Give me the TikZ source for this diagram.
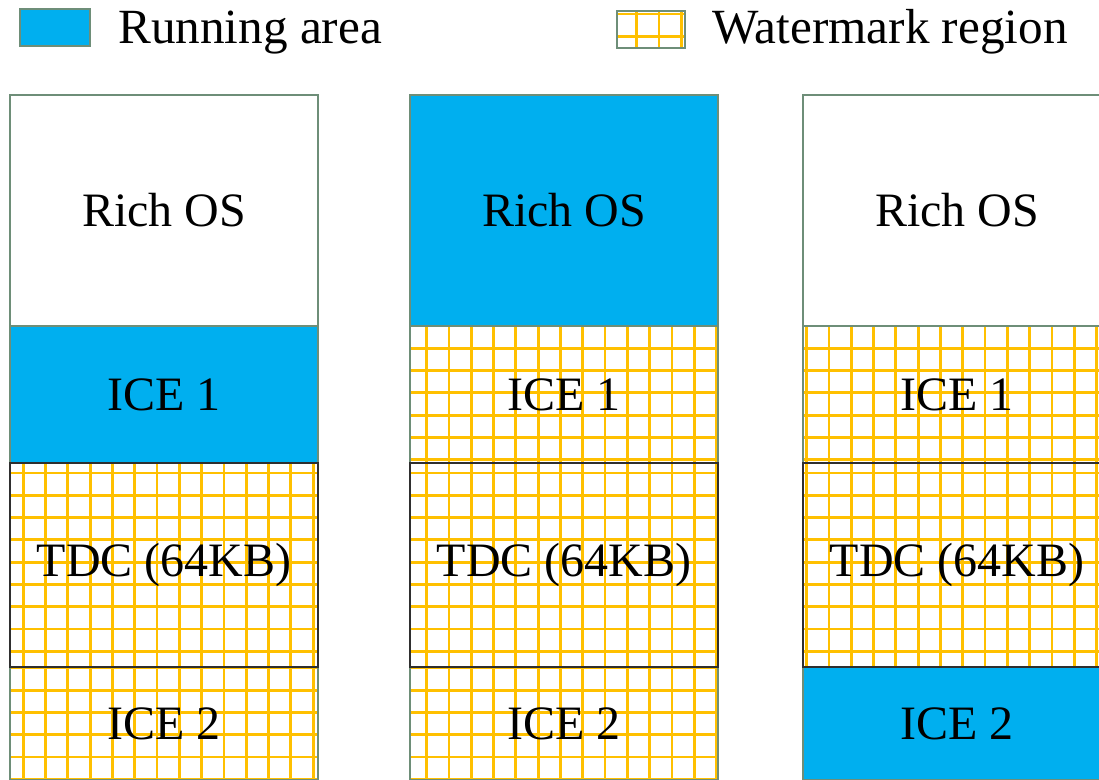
\documentclass[tikz,border=0pt]{standalone}
\usepackage{fontspec}
\setmainfont{Liberation Serif}
\usepackage{xcolor}
\usetikzlibrary{positioning}

\definecolor{runblue}{HTML}{00AFEF}
\definecolor{wmorange}{HTML}{FFC000}
\definecolor{edgegreen}{HTML}{6E8E78}
\definecolor{tdcgray}{HTML}{2F2F2F}

\tikzset{
  lbl/.style={font=\fontsize{28}{34}\selectfont,inner sep=0pt},
  gridline/.style={draw=wmorange,line width=1.6pt},
  block/.style={draw=edgegreen,line width=0.8pt,outer sep=0pt,inner sep=0pt,
    minimum width=6.16cm,font=\fontsize{27.3}{33}\selectfont},
  running/.style={fill=runblue},
  % orange grid, #1 = offset of the first column line, #2 = of the first row line
  wmark/.style 2 args={path picture={
    \foreach \k in {0,...,15}{
      \draw[gridline] ([xshift=#1+\k*0.446cm]path picture bounding box.north west)
        -- ([xshift=#1+\k*0.446cm]path picture bounding box.south west);
      \draw[gridline] ([yshift=-#2-\k*0.446cm]path picture bounding box.north west)
        -- ([yshift=-#2-\k*0.446cm]path picture bounding box.north east);
    }}},
  tdcline/.style={draw=tdcgray,line width=0.9pt},
}

\begin{document}
\begin{tikzpicture}[x=0.02cm,y=-0.02cm]
\useasboundingbox (0,0) rectangle (1099,780);

% legend
\node[block,running,minimum width=1.4cm,minimum height=0.74cm] (runkey) at (55,27.5) {};
\node[lbl,anchor=base west] (runtxt) at (118,44) {Running area};
\node[block,wmark={-0.052cm}{0.06cm},minimum width=1.36cm,minimum height=0.74cm] (wmkey) at (651,29.5) {};
\node[lbl,anchor=base west] (wmtxt) at (712,44) {Watermark region};

% column 1: ICE 1 running
\node[block,minimum height=4.62cm,anchor=north west] (rich1) at (10,95) {Rich OS};
\node[block,running,minimum height=2.74cm,below=0pt of rich1] (ice1a) {ICE 1};
\node[block,wmark={0.266cm}{0.2cm},minimum height=4.08cm,below=0pt of ice1a] (tdc1) {TDC (64KB)};
\node[block,wmark={0.266cm}{0.02cm},minimum height=2.26cm,below=0pt of tdc1] (ice2a) {ICE 2};

% column 2: Rich OS running
\node[block,running,minimum height=4.62cm,anchor=north west] (rich2) at (410,95) {Rich OS};
\node[block,wmark={0.334cm}{0cm},minimum height=2.74cm,below=0pt of rich2] (ice1b) {ICE 1};
\node[block,wmark={0.334cm}{0.2cm},minimum height=4.08cm,below=0pt of ice1b] (tdc2) {TDC (64KB)};
\node[block,wmark={0.334cm}{0.02cm},minimum height=2.26cm,below=0pt of tdc2] (ice2b) {ICE 2};

% column 3: ICE 2 running
\node[block,minimum height=4.62cm,anchor=north west] (rich3) at (803,95) {Rich OS};
\node[block,wmark={0.074cm}{0cm},minimum height=2.74cm,below=0pt of rich3] (ice1c) {ICE 1};
\node[block,wmark={0.074cm}{0.2cm},minimum height=4.08cm,below=0pt of ice1c] (tdc3) {TDC (64KB)};
\node[block,running,minimum height=2.26cm,below=0pt of tdc3] (ice2c) {ICE 2};

% TDC frames on top
\foreach \n in {tdc1,tdc2,tdc3}
  \draw[tdcline] (\n.north west) rectangle (\n.south east);
\end{tikzpicture}
\end{document}
